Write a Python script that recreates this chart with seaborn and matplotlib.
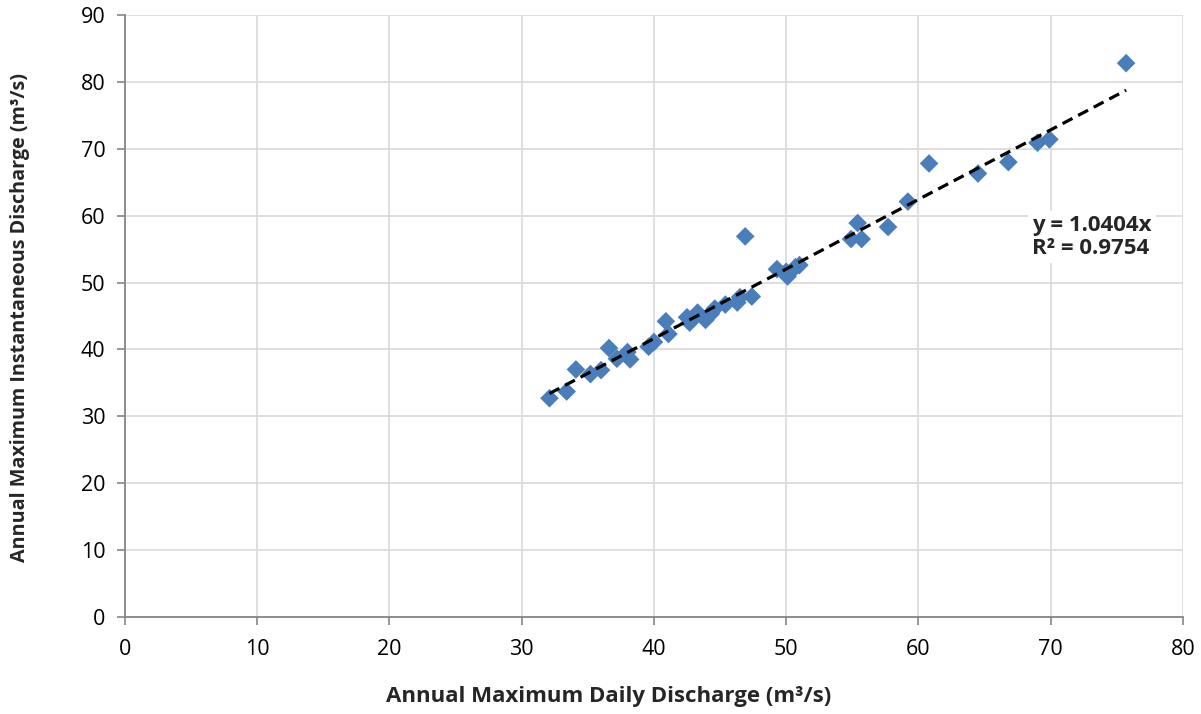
import matplotlib
matplotlib.use("Agg")
import matplotlib.pyplot as plt
import seaborn as sns
import numpy as np
import pandas as pd

daily = [32.1, 33.4, 34.1, 35.2, 36.0, 36.6, 37.2, 38.0, 38.2, 39.6,
         40.0, 40.9, 41.1, 42.5, 42.7, 43.3, 43.9, 44.3, 44.6, 45.4,
         46.3, 46.5, 46.9, 47.4, 49.3, 50.1, 50.0, 50.7, 51.0, 54.9,
         55.4, 55.7, 57.7, 59.2, 60.8, 64.5, 66.8, 69.0, 69.9, 75.7]
instant = [32.7, 33.7, 37.0, 36.3, 36.9, 40.2, 38.6, 39.6, 38.5, 40.4,
           41.1, 44.2, 42.3, 44.8, 44.0, 45.5, 44.4, 45.3, 46.1, 46.7,
           47.0, 47.8, 56.9, 47.9, 52.0, 50.9, 51.6, 52.3, 52.6, 56.5,
           58.9, 56.5, 58.3, 62.1, 67.8, 66.3, 68.0, 70.9, 71.4, 82.8]
slope = 1.0404
r2 = 0.9754
x_ticks = [0, 10, 20, 30, 40, 50, 60, 70, 80]
y_ticks = [0, 10, 20, 30, 40, 50, 60, 70, 80, 90]

df = pd.DataFrame({"daily": daily, "instant": instant})

sns.set_theme(style="white")
plt.rcParams["font.family"] = ["Open Sans", "DejaVu Sans"]

fig = plt.figure(figsize=(12.01, 7.14), dpi=100)
ax = fig.add_axes([0.104, 0.136, 0.881, 0.843])

sns.scatterplot(data=df, x="daily", y="instant", marker="D", s=90,
                color="#4A7EBB", edgecolor="none", ax=ax, zorder=3)

tx = np.array([min(daily), max(daily)])
ax.plot(tx, slope * tx, color="black", lw=2.3, ls=(0, (3.5, 2)), zorder=4)

ax.text(68.6, 56.8, f"y = {slope:.4f}x\nR² = {r2:.4f}", fontsize=16,
        fontweight="bold", ha="left", va="center", linespacing=1.15,
        bbox=dict(facecolor="white", edgecolor="none", pad=3), zorder=5)

ax.set_xlim(0, 80)
ax.set_ylim(0, 90)
ax.set_xticks(x_ticks)
ax.set_yticks(y_ticks)
ax.grid(True, color="#D9D9D9", lw=1.2)
ax.set_axisbelow(True)
for s in ["top", "right"]:
    ax.spines[s].set_visible(False)
for s in ["left", "bottom"]:
    ax.spines[s].set_color("#868686")
    ax.spines[s].set_linewidth(1.3)
ax.tick_params(axis="both", which="major", length=6, width=1.2,
               color="#868686", labelsize=15.5, labelcolor="black", direction="out",
               bottom=True, left=True)
ax.tick_params(axis="x", pad=10)
ax.tick_params(axis="y", pad=8)

ax.set_xlabel("Annual Maximum Daily Discharge (m³/s)", fontsize=16,
              fontweight="bold", va="center", ha="center")
ax.set_ylabel("Annual Maximum Instantaneous Discharge (m³/s)", fontsize=14.2,
              fontweight="bold", va="center", ha="center")
ax.xaxis.set_label_coords(0.457, -0.133)
ax.yaxis.set_label_coords(-0.099, 0.497)

fig.savefig("out.png", dpi=100)
